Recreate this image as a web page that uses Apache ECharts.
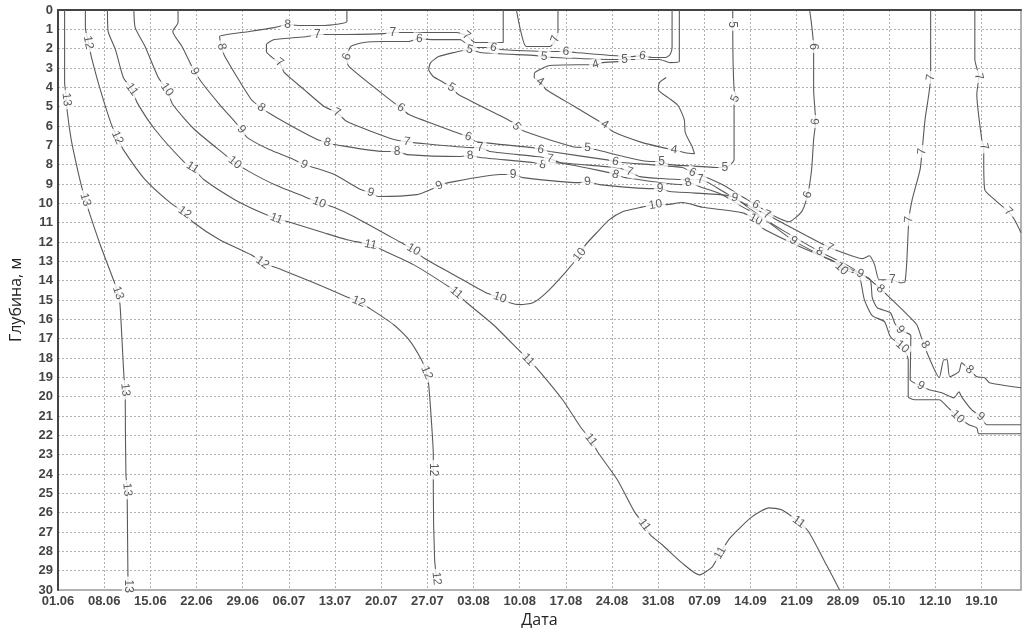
<!DOCTYPE html>
<html>
<head>
<meta charset="utf-8">
<script src="https://cdn.jsdelivr.net/npm/echarts@6/dist/echarts.min.js"></script>
<style>
html,body{margin:0;padding:0;background:#fff;}
#chart{width:1024px;height:635px;}
</style>
</head>
<body>
<div id="chart"></div>
<script>
// X axis: days since 01.06; tick labels every 7 days
const dateLabels = ['01.06','08.06','15.06','22.06','29.06','06.07','13.07','20.07','27.07','03.08','10.08','17.08','24.08','31.08','07.09','14.09','21.09','28.09','05.10','12.10','19.10'];
const dayMax = 146;
const depthMax = 30;

// Isotherm lines [day, depth] and label positions [day, depth]
const iso13 = [[1.0,0],[1.0,3.75],[1.3,4.63],[1.4,5.25],[2.0,6.7],[2.8,8.0],[3.5,9.03],[4.15,9.81],[4.75,10.48],[6.4,12.14],[8.4,13.95],[9.1,14.63],[9.4,15.24],[9.7,17.05],[10.0,18.97],[10.2,19.64],[10.2,20.42],[10.3,24.04],[10.5,24.81],[10.5,25.49],[10.6,29.22],[10.6,29.84]];
const iso13Labels = [[1.3,4.63],[4.15,9.81],[9.1,14.63],[10.2,19.64],[10.5,24.81],[10.6,29.8]];

const iso12 = [[4.15,0],[4.15,0.91],[4.6,1.68],[5.05,2.41],[6.4,4.11],[8.1,5.93],[9.0,6.6],[9.9,7.22],[13.2,8.77],[17.0,9.96],[19.2,10.48],[20.4,10.95],[24.5,11.88],[29.3,12.66],[31.0,13.07],[33.9,13.43],[38.8,14.11],[43.8,14.84],[45.6,15.09],[47.1,15.4],[50.9,16.28],[53.2,17.05],[55.1,18.09],[55.9,18.76],[56.2,19.38],[56.6,21.2],[56.9,23.01],[56.9,23.78],[56.9,24.81],[57.1,28.44],[57.4,29.37]];
const iso12Labels = [[4.6,1.68],[9.0,6.6],[19.2,10.48],[31.0,13.07],[45.6,15.09],[55.9,18.76],[56.9,23.78],[57.4,29.4]];

const iso11 = [[7.5,0],[7.6,1.11],[8.7,2.04],[9.9,3.49],[11.2,4.11],[12.0,4.79],[14.7,6.18],[19.2,7.89],[20.4,8.15],[22.1,8.77],[26.8,9.81],[30.8,10.48],[33.1,10.79],[35.4,11.0],[40.3,11.52],[43.8,11.88],[47.4,12.14],[49.1,12.4],[53.9,13.17],[59.5,14.37],[60.4,14.63],[61.8,15.09],[66.0,16.28],[69.8,17.57],[71.3,18.09],[72.8,18.61],[76.5,20.16],[79.3,21.61],[80.8,22.23],[81.8,22.85],[84.8,24.3],[87.4,25.96],[88.9,26.63],[89.8,27.15],[91.6,27.66],[94.6,28.6],[97.2,29.22],[99.2,28.8],[100.4,28.08],[101.9,27.3],[105.2,26.22],[107.8,25.75],[109.7,25.85],[112.3,26.48],[113.8,26.99],[116.5,28.7],[118.5,30]];
const iso11Labels = [[11.2,4.11],[20.4,8.15],[33.1,10.79],[47.4,12.14],[60.4,14.63],[71.3,18.09],[80.8,22.23],[88.9,26.63],[100.4,28.08],[112.3,26.48]];

const iso10 = [[11.5,0],[11.7,0.91],[13.2,1.89],[15.2,3.49],[16.5,4.11],[17.4,4.89],[20.7,6.18],[25.3,7.48],[26.8,7.89],[29.0,8.36],[32.8,9.03],[37.3,9.65],[39.6,9.96],[41.9,10.22],[44.9,10.69],[52.0,12.03],[53.9,12.4],[55.4,12.81],[60.0,13.69],[64.9,14.63],[67.0,14.88],[68.5,15.14],[70.1,15.24],[72.0,15.14],[74.0,14.63],[77.0,13.54],[79.1,12.66],[80.0,12.14],[81.8,11.47],[83.6,10.84],[85.6,10.43],[88.2,10.22],[90.6,10.07],[92.1,10.07],[94.7,9.96],[97.7,10.2],[103.7,10.48],[105.8,10.84],[106.7,11.26],[112.75,12.29],[117.7,13.02],[118.8,13.38],[120.6,13.59],[121.5,13.74],[122.25,14.98],[123.45,15.81],[125.3,16.12],[126.2,16.9],[128.0,17.42],[128.9,18.09],[128.9,20.01],[129.9,20.16],[133.6,20.16],[134.8,20.52],[136.4,21.04],[138.1,21.45],[139.3,21.61],[139.6,21.92],[146,21.92]];
const iso10Labels = [[16.5,4.11],[26.8,7.89],[39.6,9.96],[53.9,12.4],[67.0,14.88],[79.1,12.66],[90.6,10.07],[105.8,10.84],[118.8,13.38],[128.0,17.42],[136.4,21.04]];

const iso9 = [[18.2,0],[18.2,0.65],[17.4,1.11],[18.8,1.89],[20.3,2.92],[20.7,3.18],[21.8,3.75],[24.5,4.89],[26.8,5.77],[27.8,6.18],[28.7,6.6],[32.05,7.22],[35.8,7.74],[37.3,8.0],[38.8,8.15],[41.9,8.51],[45.9,9.29],[47.4,9.45],[48.6,9.65],[54.4,9.55],[56.5,9.29],[57.8,9.08],[59.2,8.93],[67.0,8.51],[69.0,8.51],[70.5,8.67],[79.1,8.93],[80.3,8.88],[82.1,9.03],[90.1,9.24],[91.3,9.24],[92.8,9.39],[100.4,9.55],[102.6,9.71],[104.5,10.17],[108.2,11.1],[111.5,11.93],[115.8,12.71],[120.3,13.43],[121.6,13.64],[123.15,13.95],[123.45,14.88],[124.2,15.4],[126.2,15.66],[126.9,16.23],[127.7,16.54],[129.3,16.85],[129.2,19.13],[130.8,19.44],[132.05,19.64],[134.0,19.8],[135.8,20.06],[136.6,19.75],[137.0,20.01],[138.5,20.67],[139.9,21.04],[140.8,21.45],[146,21.45]];
const iso9Labels = [[20.7,3.18],[27.8,6.18],[37.3,8.0],[47.4,9.45],[57.8,9.08],[69.0,8.51],[80.3,8.88],[91.3,9.24],[102.6,9.71],[111.5,11.93],[121.6,13.64],[127.7,16.54],[130.8,19.44],[139.9,21.04]];

const iso8 = [[43.8,0],[43.8,0.6],[40.35,0.8],[36.6,0.8],[34.8,0.75],[32.8,0.91],[29.0,1.11],[25.6,1.27],[24.5,1.37],[24.8,1.89],[25.3,2.41],[29.3,4.63],[30.8,5.05],[32.35,5.41],[35.8,6.08],[39.3,6.7],[40.8,6.86],[41.9,6.96],[49.4,7.32],[51.4,7.32],[52.9,7.48],[61.0,7.58],[62.5,7.53],[64.0,7.63],[72.0,7.89],[73.5,8.0],[75.0,7.89],[83.6,8.41],[84.5,8.51],[86.05,8.67],[94.65,9.03],[95.55,8.93],[97.7,9.19],[100.7,9.55],[103.7,10.17],[105.7,10.53],[109.7,11.36],[115.5,12.5],[119.5,13.17],[122.7,13.85],[124.7,14.42],[126.0,14.84],[128.0,15.5],[130.2,16.28],[131.0,17.05],[131.45,17.31],[131.75,17.73],[133.6,19.02],[134.3,18.09],[134.8,18.09],[135.2,18.97],[136.6,18.71],[137.0,18.25],[138.2,18.61],[139.3,18.97],[140.5,19.02],[141.25,19.28],[146,19.54]];
const iso8Labels = [[34.8,0.75],[24.8,1.89],[30.8,5.05],[40.8,6.86],[51.4,7.32],[62.5,7.53],[73.5,8.0],[84.5,8.51],[95.55,8.93],[115.5,12.5],[124.7,14.42],[131.45,17.31],[138.2,18.61]];

const iso7 = [[67.5,0],[67.5,1.68],[63.3,1.68],[61.9,1.32],[60.4,1.16],[52.4,1.16],[50.75,1.16],[49.4,1.22],[41.9,1.27],[39.3,1.27],[37.8,1.37],[32.8,1.53],[31.6,1.79],[31.6,2.15],[32.5,2.46],[33.6,2.72],[34.3,3.23],[37.3,4.11],[40.35,4.99],[42.3,5.31],[43.8,5.77],[50.9,6.7],[52.9,6.81],[53.9,6.86],[63.0,7.12],[64.0,7.12],[65.5,7.32],[72.5,7.58],[74.6,7.69],[76.1,7.89],[84.5,8.15],[86.65,8.36],[88.2,8.62],[94.65,8.77],[97.4,8.77],[99.9,9.19],[103.7,9.96],[107.5,10.59],[111.2,11.26],[117.0,12.29],[120.3,12.71],[122.0,12.86],[123.0,12.71],[123.8,13.17],[124.5,13.95],[126.5,13.95],[127.7,14.11],[128.4,14.06],[128.7,12.91],[129.0,10.84],[129.5,9.81],[130.7,8.26],[131.0,7.32],[131.45,5.67],[132.3,3.49],[132.3,1.53],[132.3,0]];
const iso7Labels = [[61.9,1.32],[50.75,1.16],[39.3,1.27],[33.6,2.72],[42.3,5.31],[52.9,6.81],[64.0,7.12],[74.6,7.69],[86.65,8.36],[97.4,8.77],[107.5,10.59],[117.0,12.29],[126.5,13.95],[129.0,10.84],[131.0,7.32],[132.3,3.49]];

const iso7Loop = [[69.5,0],[70.1,1.01],[71.0,1.89],[74.6,1.89],[75.3,1.63],[75.8,1.11],[75.8,0]];
const iso7LoopLabels = [[75.4,1.5]];

const iso7East = [[139.0,0],[139.0,2.56],[139.6,3.44],[139.3,4.37],[140.05,6.7],[140.35,7.07],[140.35,7.74],[140.5,9.29],[142.0,9.81],[144.1,10.43],[145.0,10.84],[146,11.52]];
const iso7EastLabels = [[139.6,3.44],[140.35,7.07],[144.1,10.43]];

const iso6 = [[93.1,0],[93.1,1.94],[92.8,2.3],[92.1,2.46],[90.1,2.46],[88.6,2.36],[87.1,2.41],[78.4,2.2],[77.0,2.15],[75.8,2.15],[67.0,2.04],[66.0,1.94],[64.9,1.94],[63.4,1.94],[61.9,1.73],[61.0,1.53],[56.5,1.53],[54.8,1.48],[53.2,1.63],[49.4,1.63],[46.4,1.68],[44.4,1.89],[43.8,2.41],[44.1,2.92],[50.9,4.79],[52.0,5.05],[53.2,5.41],[60.4,6.34],[62.2,6.55],[63.4,6.81],[72.0,7.12],[73.2,7.22],[74.6,7.32],[83.0,7.74],[84.5,7.84],[85.6,7.89],[94.65,8.15],[96.2,8.41],[97.7,8.57],[100.7,9.03],[103.7,9.65],[105.8,10.07],[108.2,10.59],[110.8,10.95],[112.75,10.43],[113.65,9.55],[114.25,8.26],[114.56,6.7],[114.86,5.77],[114.56,4.11],[114.56,1.89],[114.25,0.75],[113.95,0]];
const iso6Labels = [[88.6,2.36],[77.0,2.15],[66.0,1.94],[54.8,1.48],[43.8,2.41],[52.0,5.05],[62.2,6.55],[73.2,7.22],[84.5,7.84],[96.2,8.41],[105.8,10.07],[113.65,9.55],[114.86,5.77],[114.56,1.89]];

const iso5 = [[94.2,0],[94.2,2.67],[92.8,2.72],[91.2,2.56],[87.6,2.56],[85.9,2.56],[84.1,2.56],[75.3,2.46],[73.7,2.41],[72.5,2.36],[64.0,2.2],[62.4,2.04],[60.0,2.2],[57.7,2.41],[56.5,2.72],[56.2,3.08],[56.9,3.44],[58.45,3.75],[59.65,4.01],[60.7,4.37],[69.0,5.82],[69.5,6.03],[70.8,6.29],[78.05,7.07],[80.3,7.12],[81.5,7.22],[89.7,7.84],[91.5,7.84],[92.7,8.0],[97.7,8.1],[99.9,8.15],[101.1,8.15],[102.5,7.74],[102.5,4.89],[102.9,4.58],[102.5,4.11],[102.3,1.01],[102.3,0.75],[102.3,0]];
const iso5Labels = [[85.9,2.56],[73.7,2.41],[62.4,2.04],[59.65,4.01],[69.5,6.03],[80.3,7.12],[91.5,7.84],[101.1,8.15],[102.7,4.58],[102.3,0.75]];

const iso4 = [[85.1,2.67],[82.6,2.72],[81.5,2.82],[74.6,2.87],[72.3,3.23],[72.2,3.49],[73.1,3.7],[74.0,4.11],[78.05,4.94],[82.1,5.77],[82.9,5.93],[84.1,6.29],[88.6,6.86],[92.4,7.17],[93.4,7.22],[95.1,7.38],[96.5,7.43],[96.15,7.07],[95.1,6.34],[94.95,5.67],[94.0,4.94],[92.5,4.53],[91.0,4.11],[91.2,3.75],[92.2,3.49]];
const iso4Labels = [[81.5,2.82],[73.1,3.7],[82.9,5.93],[93.4,7.22]];

const contours = [
  {level:13, line:iso13, labels:iso13Labels},
  {level:12, line:iso12, labels:iso12Labels},
  {level:11, line:iso11, labels:iso11Labels},
  {level:10, line:iso10, labels:iso10Labels},
  {level:9, line:iso9, labels:iso9Labels},
  {level:8, line:iso8, labels:iso8Labels},
  {level:7, line:iso7, labels:iso7Labels},
  {level:7, line:iso7Loop, labels:iso7LoopLabels},
  {level:7, line:iso7East, labels:iso7EastLabels},
  {level:6, line:iso6, labels:iso6Labels},
  {level:5, line:iso5, labels:iso5Labels},
  {level:4, line:iso4, labels:iso4Labels}
];

const chart = echarts.init(document.getElementById('chart'), null, {renderer:'canvas'});

const lineColor = '#5a5a5a';
const labelFont = 'Liberation Sans, Arial, sans-serif';

function buildSeries(rotations){
  const series = [];
  contours.forEach((c) => {
    series.push({
      type:'line', data:c.line, showSymbol:false, symbol:'none', smooth:0.2,
      lineStyle:{color:lineColor, width:1.1}, silent:true, z:2, animation:false
    });
  });
  contours.forEach((c, ci) => {
    series.push({
      type:'scatter', symbolSize:0, itemStyle:{color:'rgba(0,0,0,0)'}, z:5, animation:false, silent:true,
      data:c.labels.map((p, li) => ({
        value:p,
        label:{rotate: rotations ? rotations[ci][li] : 0}
      })),
      label:{
        show:true, position:'inside', formatter:String(c.level),
        fontSize:12, color:'#333', fontFamily:labelFont,
        backgroundColor:'#fff', padding:[0,3]
      },
      labelLayout:{hideOverlap:false}
    });
  });
  return series;
}

const option = {
  animation:false,
  backgroundColor:'#fff',
  grid:{left:52, right:2, top:10, bottom:45, show:true, borderColor:'#999', borderWidth:1.5},
  xAxis:{
    type:'value', min:0, max:dayMax, interval:7,
    name:'Дата', nameLocation:'middle', nameGap:21,
    nameTextStyle:{fontSize:16, color:'#222', fontFamily:'Open Sans, sans-serif'},
    axisLine:{show:true, lineStyle:{color:'#444', width:2}},
    axisTick:{show:false},
    axisLabel:{
      fontSize:13, fontWeight:'bold', color:'#444', fontFamily:labelFont, margin:5,
      formatter:v => (v % 7 === 0 && dateLabels[v/7]) ? dateLabels[v/7] : ''
    },
    splitLine:{show:true, lineStyle:{color:'#b0b0b0', type:[2,2], width:1}}
  },
  yAxis:{
    type:'value', inverse:true, min:0, max:depthMax, interval:1,
    name:'Глубина, м', nameLocation:'middle', nameGap:34, nameRotate:90,
    nameTextStyle:{fontSize:16, color:'#222', fontFamily:'Open Sans, sans-serif'},
    axisLine:{show:true, lineStyle:{color:'#444', width:2}},
    axisTick:{show:false},
    axisLabel:{fontSize:13, fontWeight:'bold', color:'#444', fontFamily:labelFont, margin:5},
    splitLine:{show:true, lineStyle:{color:'#b0b0b0', type:[2,2], width:1}}
  },
  series:buildSeries(null)
};

chart.setOption(option);

// label rotation follows the contour direction, computed with the chart's own scales
const rotations = contours.map(c => {
  const px = c.line.map(p => chart.convertToPixel({xAxisIndex:0, yAxisIndex:0}, p));
  return c.labels.map(l => {
    const q = chart.convertToPixel({xAxisIndex:0, yAxisIndex:0}, l);
    let best = Infinity, ang = 0;
    for (let i = 0; i < px.length - 1; i++) {
      const a = px[i], b = px[i+1];
      const dx = b[0]-a[0], dy = b[1]-a[1];
      const len2 = dx*dx + dy*dy;
      if (len2 === 0) continue;
      let t = ((q[0]-a[0])*dx + (q[1]-a[1])*dy)/len2;
      t = Math.max(0, Math.min(1, t));
      const cx = a[0]+t*dx - q[0], cy = a[1]+t*dy - q[1];
      const d = cx*cx + cy*cy;
      if (d < best) { best = d; ang = Math.atan2(dy, dx)*180/Math.PI; }
    }
    if (ang > 90) ang -= 180;
    if (ang <= -90) ang += 180;
    return -ang;
  });
});
chart.setOption({series:buildSeries(rotations)});
</script>
</body>
</html>
